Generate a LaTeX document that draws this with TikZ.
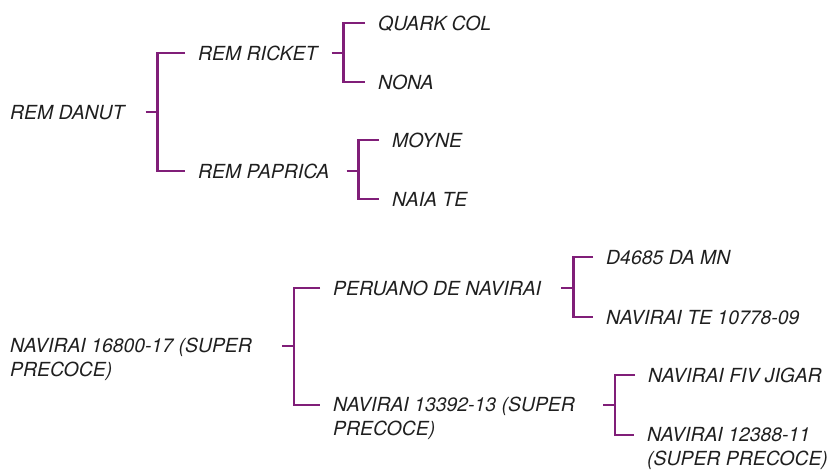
\documentclass[tikz,border=0pt]{standalone}
\usepackage{fontspec}
\setmainfont{TeX Gyre Heros}
\usepackage{tikz}
\usetikzlibrary{positioning, calc}
\usepackage{xcolor}
\definecolor{plum}{RGB}{128,30,120}
\tikzset{cultivarbase/.style={anchor=north west, inner sep=0pt, text=black!88, font=\fontsize{19.4}{24}\selectfont\itshape},
cultivarnode/.style={cultivarbase, text height=15pt, text depth=5pt},
cultivarpair/.style={cultivarbase, align=left},
bracketline/.style={draw=plum, line width=2.5pt}}
\begin{document}
\begin{tikzpicture}[x=1pt, y=1pt]
        \useasboundingbox (0,0) rectangle (832,470);
        % First pedigree
        \node[cultivarnode] (danut) at (10, 366) {REM DANUT};
        \node[cultivarnode] (ricket) at (198, 425) {REM RICKET};
        \node[cultivarnode] (paprica) at (198, 307) {REM PAPRICA};
        \node[cultivarnode] (quark) at (378, 455) {QUARK COL};
        \node[cultivarnode] (nona) at (378, 396) {NONA};
        \node[cultivarnode] (moyne) at (392, 338) {MOYNE};
        \node[cultivarnode] (naiate) at (392, 279) {NAIA TE};
        % Second pedigree
        \node[cultivarpair] (navirai) at (10, 132) {NAVIRAI 16800-17 (SUPER\\PRECOCE)};
        \node[cultivarnode] (peruano) at (333, 190) {PERUANO DE NAVIRAI};
        \node[cultivarpair] (navsuper) at (333, 73) {NAVIRAI 13392-13 (SUPER\\PRECOCE)};
        \node[cultivarnode] (d4685) at (606, 221) {D4685 DA MN};
        \node[cultivarnode] (navte) at (606, 161) {NAVIRAI TE 10778-09};
        \node[cultivarnode] (fivjigar) at (648, 103) {NAVIRAI FIV JIGAR};
        \node[cultivarpair] (nav12388) at (647, 43) {NAVIRAI 12388-11\\(SUPER PRECOCE)};
        % Brackets
        \foreach \parent/\upper/\lower/\gap in {
            danut/ricket/paprica/21,
            ricket/quark/nona/14,
            paprica/moyne/naiate/17,
            navirai/peruano/navsuper/30,
            peruano/d4685/navte/20,
            navsuper/fivjigar/nav12388/28} {
            \draw[bracketline] ([xshift=\gap pt, yshift=-8pt]\parent.north east) -- ++(12pt, 0) coordinate (fork);
            \draw[bracketline] ([xshift=-13pt, yshift=-8pt]\upper.north west) -| (fork) |- ([xshift=-13pt, yshift=-8pt]\lower.north west);
        }
    \end{tikzpicture}
\end{document}
